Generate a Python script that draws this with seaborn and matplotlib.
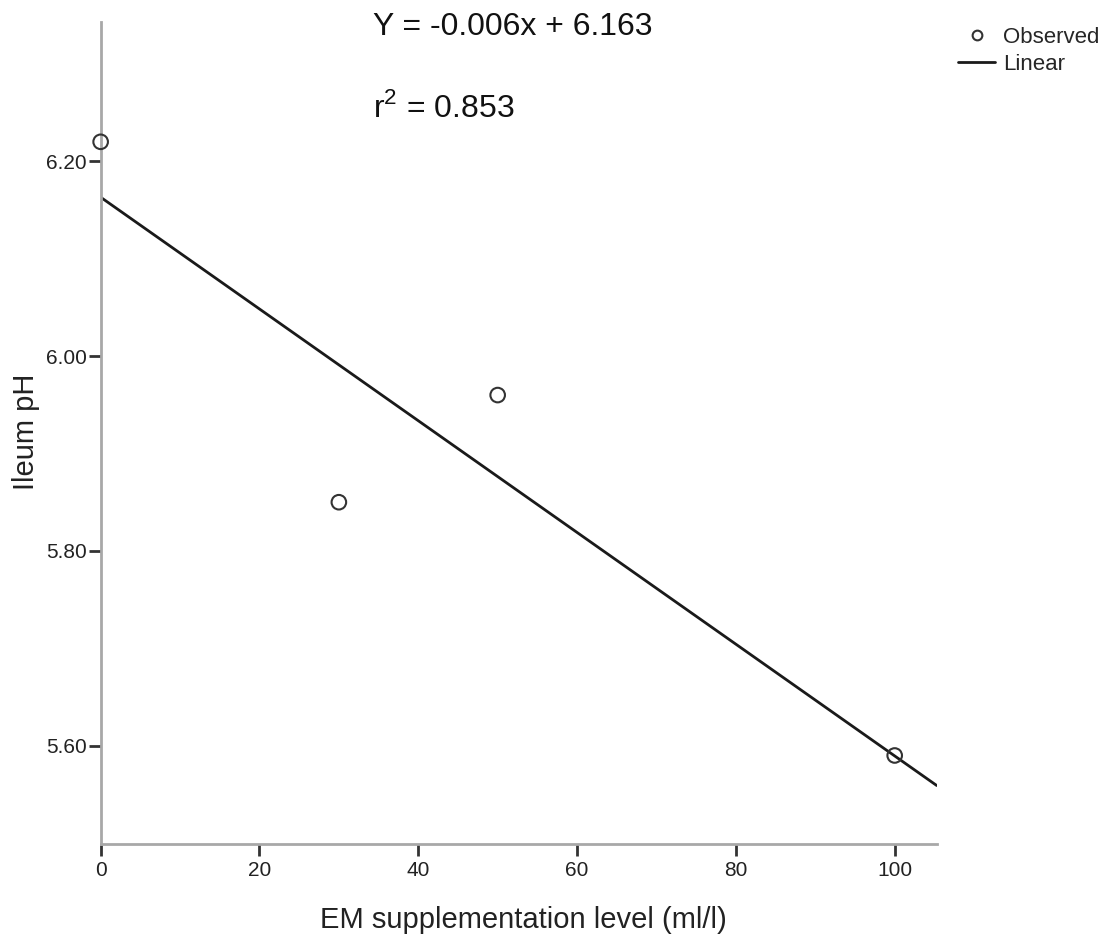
import matplotlib
matplotlib.use("Agg")
import matplotlib.pyplot as plt
import seaborn as sns
import numpy as np
import pandas as pd
from matplotlib.lines import Line2D

# Data
em_level = [0, 30, 50, 100]
ileum_ph = [6.22, 5.85, 5.96, 5.59]
x_ticks = [0, 20, 40, 60, 80, 100]
y_ticks = [5.60, 5.80, 6.00, 6.20]
equation_text = "Y = -0.006x + 6.163"
r2_text = "r$^2$ = 0.853"

df = pd.DataFrame({"x": em_level, "y": ileum_ph})

sns.set_style("white")
plt.rcParams["font.family"] = ["Liberation Sans", "DejaVu Sans"]
plt.rcParams["mathtext.fontset"] = "custom"
plt.rcParams["mathtext.rm"] = "Liberation Sans"

fig = plt.figure(figsize=(11.06, 9.4), dpi=100)
ax = fig.add_axes([0.091, 0.102, 0.756, 0.8746])

ax.set_xlim(0, 105.3)
ax.set_ylim(5.499, 6.343)

sns.regplot(data=df, x="x", y="y", ax=ax, scatter=False, ci=None,
            truncate=False, line_kws=dict(color="#1a1a1a", lw=2.0))
sns.scatterplot(data=df, x="x", y="y", ax=ax, marker="o", s=110,
                facecolor="none", edgecolor="#333333", linewidth=1.5,
                clip_on=False, zorder=5)

ax.set_xlim(0, 105.3)
ax.set_ylim(5.499, 6.343)
ax.set_xticks(x_ticks)
ax.set_xticklabels([str(t) for t in x_ticks])
ax.set_yticks(y_ticks)
ax.set_yticklabels([f"{t:.2f}" for t in y_ticks])

for side in ["top", "right"]:
    ax.spines[side].set_visible(False)
for side in ["left", "bottom"]:
    ax.spines[side].set_color("#a8a8a8")
    ax.spines[side].set_linewidth(2.0)

ax.tick_params(axis="both", direction="out", length=8.5, width=2.0,
               color="#333333", labelsize=15, labelcolor="#222222",
               left=True, bottom=True)
ax.tick_params(axis="y", pad=1.5)
ax.tick_params(axis="x", pad=4)

ax.set_xlabel("EM supplementation level (ml/l)", fontsize=21, color="#222222")
ax.set_ylabel("Ileum pH", fontsize=21, color="#222222")
ax.xaxis.set_label_coords(0.505, -0.075)
ax.yaxis.set_label_coords(-0.073, 0.502)

fig.text(373 / 1106, 1 - 27 / 940, equation_text, fontsize=23,
         ha="left", va="center", color="#111111")
fig.text(373 / 1106, 1 - 108 / 940, r2_text, fontsize=23,
         ha="left", va="center", color="#111111")

handles = [
    Line2D([], [], marker="o", linestyle="none", markerfacecolor="none",
           markeredgecolor="#333333", markersize=7, markeredgewidth=1.5),
    Line2D([], [], color="#1a1a1a", lw=2.0),
]
fig.legend(handles, ["Observed", "Linear"], loc="upper left",
           bbox_to_anchor=(958 / 1106, 1 - 27 / 940), frameon=False,
           fontsize=16, handlelength=1.67, handletextpad=0.36,
           labelspacing=0.27, borderpad=0, borderaxespad=0)

fig.savefig("out.png", dpi=100)
